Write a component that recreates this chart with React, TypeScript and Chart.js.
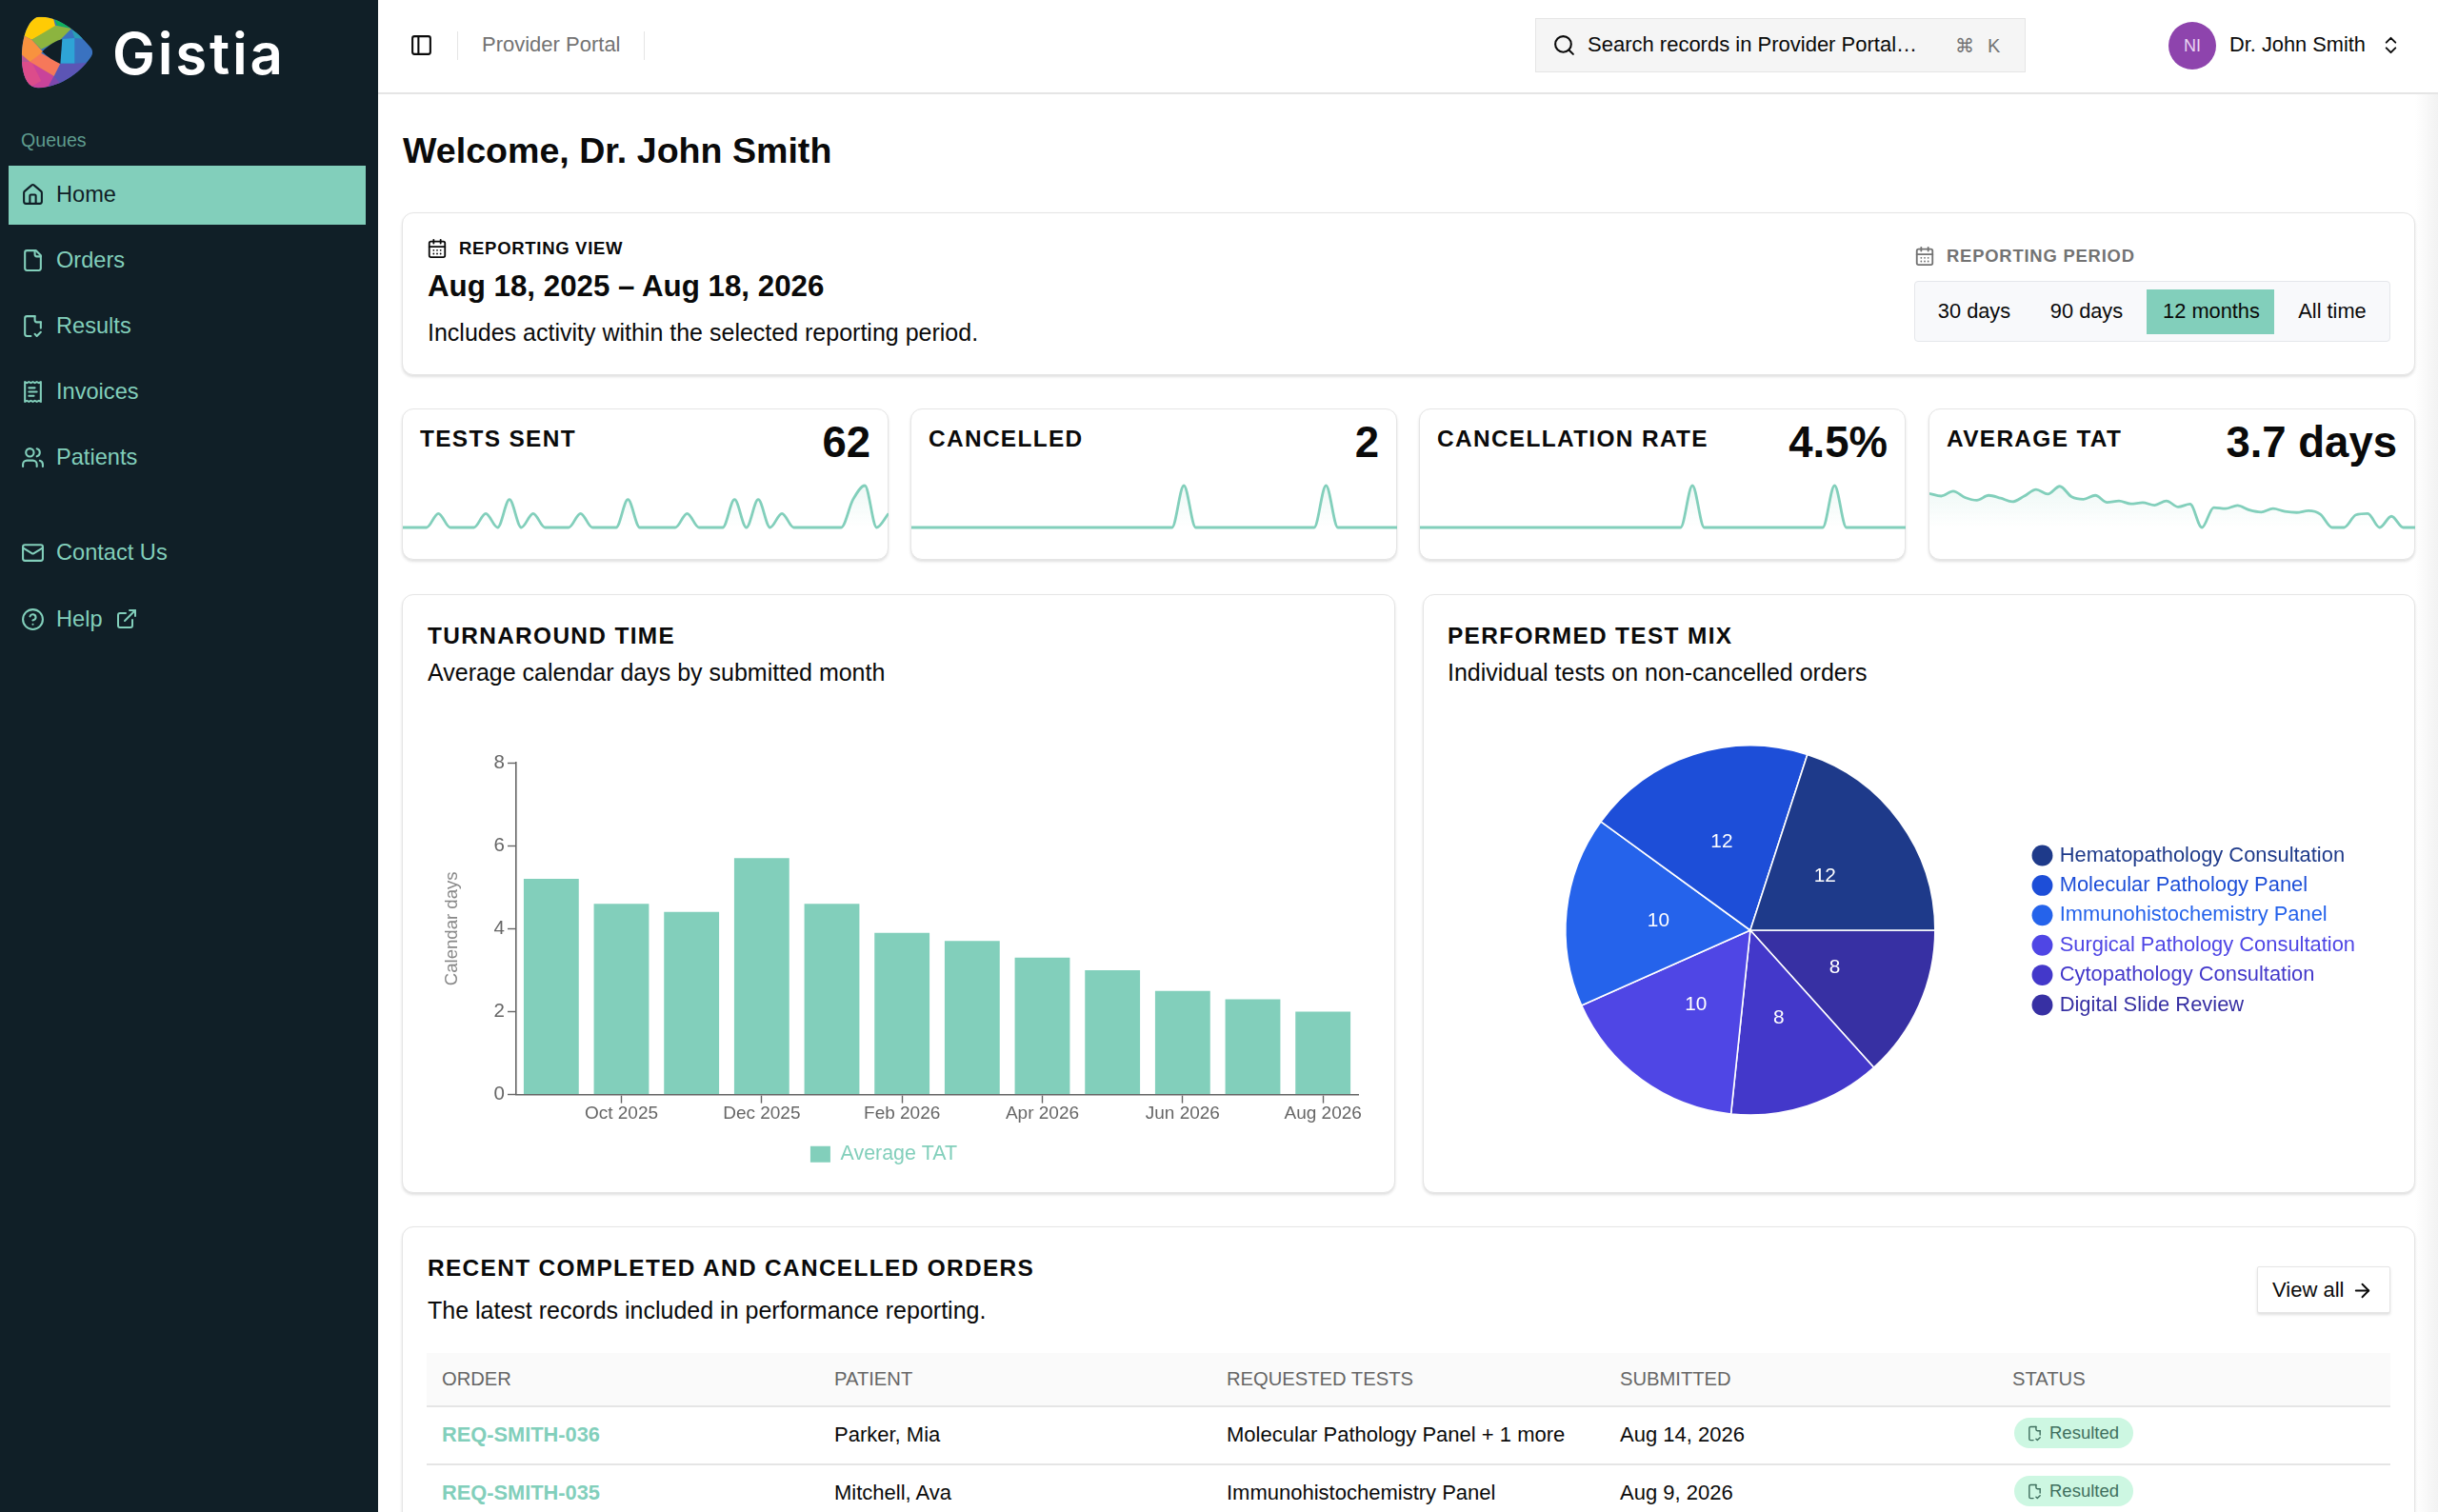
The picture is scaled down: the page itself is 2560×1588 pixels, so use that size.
import React, { useEffect, useRef } from 'react';
import { Chart, registerables } from 'chart.js';

Chart.register(...registerables);
Chart.defaults.font.family = '"Liberation Sans", Arial, sans-serif';

const TEAL = '#82cfbb';
const NAVY = '#101f27';
const LINE = '#e5e5e5';

const barMonths = ['Sep 2025', 'Oct 2025', 'Nov 2025', 'Dec 2025', 'Jan 2026', 'Feb 2026', 'Mar 2026', 'Apr 2026', 'May 2026', 'Jun 2026', 'Jul 2026', 'Aug 2026'];
const tatValues = [5.2, 4.6, 4.4, 5.7, 4.6, 3.9, 3.7, 3.3, 3.0, 2.5, 2.3, 2.0];
const yTicks = [0, 2, 4, 6, 8];

const mixLabels = ['Hematopathology Consultation', 'Molecular Pathology Panel', 'Immunohistochemistry Panel', 'Surgical Pathology Consultation', 'Cytopathology Consultation', 'Digital Slide Review'];
const mixValues = [12, 12, 10, 10, 8, 8];
const mixColors = ['#1e3a8a', '#1d4ed8', '#2563eb', '#4f46e5', '#4338ca', '#3730a3'];

const sparkTests = [0, 0, 0, 1, 0, 0, 0, 1, 0, 2, 0, 1, 0, 0, 0, 1, 0, 0, 0, 2, 0, 0, 0, 0, 1, 0, 0, 0, 2, 0, 2, 0, 1, 0, 0, 0, 0, 0, 2, 3, 0, 1];
const sparkCancelled = [0, 0, 0, 0, 0, 0, 0, 0, 0, 0, 0, 0, 0, 0, 0, 0, 0, 0, 0, 0, 0, 0, 0, 1, 0, 0, 0, 0, 0, 0, 0, 0, 0, 0, 0, 1, 0, 0, 0, 0, 0, 0];
const sparkRate = [0, 0, 0, 0, 0, 0, 0, 0, 0, 0, 0, 0, 0, 0, 0, 0, 0, 0, 0, 0, 0, 0, 0, 5, 0, 0, 0, 0, 0, 0, 0, 0, 0, 0, 0, 5, 0, 0, 0, 0, 0, 0];
const sparkTat = [4.86, 4.5, 5.2, 4.3, 3.9, 4.6, 4.2, 3.7, 4.5, 5.45, 4.8, 5.9, 4.4, 4.05, 4.6, 3.6, 3.8, 3.4, 3.55, 3.2, 3.8, 2.95, 3.35, 0, 2.85, 2.7, 3.15, 2.5, 2.2, 2.7, 2.3, 2.15, 2.4, 1.9, 0, 0, 1.8, 2.0, 0, 1.6, 0, 0];

const navItems = [
  { label: 'Orders', y: 273, icon: 'file' },
  { label: 'Results', y: 342, icon: 'check' },
  { label: 'Invoices', y: 411, icon: 'receipt' },
  { label: 'Patients', y: 480, icon: 'users' },
  { label: 'Contact Us', y: 580, icon: 'mail' },
  { label: 'Help', y: 650, icon: 'help' },
];

const periods = [
  { label: '30 days', x: 2073 },
  { label: '90 days', x: 2191 },
  { label: '12 months', x: 2322 },
  { label: 'All time', x: 2449 },
];

const kpis = [
  { title: 'TESTS SENT', value: '62', left: 423, data: sparkTests, max: 3 },
  { title: 'CANCELLED', value: '2', left: 957, data: sparkCancelled, max: 1 },
  { title: 'CANCELLATION RATE', value: '4.5%', left: 1491, data: sparkRate, max: 5 },
  { title: 'AVERAGE TAT', value: '3.7 days', left: 2026, data: sparkTat, max: 6 },
];

const tableCols = [464, 876, 1288, 1701, 2113];
const tableHead = ['ORDER', 'PATIENT', 'REQUESTED TESTS', 'SUBMITTED', 'STATUS'];
const tableRows = [
  { y: 1506, cells: ['REQ-SMITH-036', 'Parker, Mia', 'Molecular Pathology Panel + 1 more', 'Aug 14, 2026'] },
  { y: 1567, cells: ['REQ-SMITH-035', 'Mitchell, Ava', 'Immunohistochemistry Panel', 'Aug 9, 2026'] },
];

const ICONS: Record<string, React.ReactNode> = {
  home: <><path d="M15 21v-8a1 1 0 0 0-1-1h-4a1 1 0 0 0-1 1v8" /><path d="M3 10a2 2 0 0 1 .7-1.5l7-6a2 2 0 0 1 2.6 0l7 6A2 2 0 0 1 21 10v9a2 2 0 0 1-2 2H5a2 2 0 0 1-2-2z" /></>,
  file: <><path d="M15 2H6a2 2 0 0 0-2 2v16a2 2 0 0 0 2 2h12a2 2 0 0 0 2-2V7z" /><path d="M14 2v4a2 2 0 0 0 2 2h4" /></>,
  check: <><path d="M14 2H6a2 2 0 0 0-2 2v16a2 2 0 0 0 2 2h4" /><path d="M14 2v4a2 2 0 0 0 2 2h4" /><path d="M20 8v6" /><path d="m14 20 2 2 4-4" /></>,
  receipt: <><path d="M4 2v20l2-1 2 1 2-1 2 1 2-1 2 1 2-1 2 1V2l-2 1-2-1-2 1-2-1-2 1-2-1-2 1Z" /><path d="M14 8H8" /><path d="M16 12H8" /><path d="M13 16H8" /></>,
  users: <><path d="M16 21v-2a4 4 0 0 0-4-4H6a4 4 0 0 0-4 4v2" /><circle cx="9" cy="7" r="4" /><path d="M22 21v-2a4 4 0 0 0-3-3.87" /><path d="M16 3.13a4 4 0 0 1 0 7.75" /></>,
  mail: <><rect x="2" y="4" width="20" height="16" rx="2" /><path d="m22 7-8.97 5.7a1.94 1.94 0 0 1-2.06 0L2 7" /></>,
  help: <><circle cx="12" cy="12" r="10" /><path d="M9.09 9a3 3 0 0 1 5.83 1c0 2-3 3-3 3" /><path d="M12 17h.01" /></>,
  external: <><path d="M15 3h6v6" /><path d="M10 14 21 3" /><path d="M18 13v6a2 2 0 0 1-2 2H5a2 2 0 0 1-2-2V8a2 2 0 0 1 2-2h6" /></>,
  calendar: <><path d="M8 2v4" /><path d="M16 2v4" /><rect x="3" y="4" width="18" height="18" rx="2" /><path d="M3 10h18" /><path d="M8 14h.01M12 14h.01M16 14h.01M8 18h.01M12 18h.01M16 18h.01" /></>,
  search: <><path d="m21 21-4.3-4.3" /><circle cx="11" cy="11" r="8" /></>,
  panel: <><rect x="3" y="3" width="18" height="18" rx="2" /><path d="M9 3v18" /></>,
  updown: <><path d="m7 15 5 5 5-5" /><path d="m7 9 5-5 5 5" /></>,
  arrow: <><path d="M5 12h14" /><path d="m12 5 7 7-7 7" /></>,
};

function Icon({ name, x, y, size = 24, color = '#0a0a0a', sw = 2 }: { name: string; x: number; y: number; size?: number; color?: string; sw?: number }) {
  return (
    <svg viewBox="0 0 24 24" width={size} height={size} fill="none" stroke={color} strokeWidth={sw} strokeLinecap="round" strokeLinejoin="round"
      style={{ position: 'absolute', left: x - size / 2, top: y - size / 2 }}>
      {ICONS[name]}
    </svg>
  );
}

interface TextProps {
  x: number; y: number; s: number; c?: string; w?: number; ls?: number; anchor?: 'start' | 'mid' | 'end'; font?: string; children: React.ReactNode;
}

// y is the vertical centre of the line, the +1 makes up for Liberation sitting a bit high
function T({ x, y, s, c = '#0a0a0a', w = 400, ls = 0, anchor = 'start', font, children }: TextProps) {
  const pos: React.CSSProperties = anchor === 'end' ? { right: 2560 - x } : { left: x };
  const tx = anchor === 'mid' ? '-50%' : '0';
  return (
    <span style={{ position: 'absolute', top: y + 1, ...pos, transform: `translate(${tx}, -50%)`, fontSize: s, color: c, fontWeight: w, letterSpacing: ls, lineHeight: 1, whiteSpace: 'nowrap', fontFamily: font }}>
      {children}
    </span>
  );
}

function Box({ x, y, w, h, r = 12, style }: { x: number; y: number; w: number; h: number; r?: number; style?: React.CSSProperties }) {
  return <div style={{ position: 'absolute', left: x, top: y, width: w, height: h, boxSizing: 'border-box', border: `1.5px solid ${LINE}`, borderRadius: r, background: '#fff', boxShadow: '0 2px 3px rgba(0,0,0,0.12)', ...style }} />;
}

function useChart(makeConfig: () => any) {
  const ref = useRef<HTMLCanvasElement>(null);
  useEffect(() => {
    if (!ref.current) return;
    const chart = new Chart(ref.current, makeConfig());
    return () => chart.destroy();
  }, []);
  return ref;
}

function Spark({ left, data, max }: { left: number; data: number[]; max: number }) {
  const ref = useChart(() => ({
    type: 'line',
    data: {
      labels: data.map((_, i) => i),
      datasets: [{
        data,
        borderColor: TEAL,
        borderWidth: 2.8,
        pointRadius: 0,
        cubicInterpolationMode: 'monotone',
        clip: false,
        fill: 'origin',
        backgroundColor: (ctx: any) => {
          const area = ctx.chart.chartArea;
          if (!area) return 'transparent';
          const g = ctx.chart.ctx.createLinearGradient(0, area.top, 0, area.bottom);
          g.addColorStop(0, 'rgba(130,207,187,0.14)');
          g.addColorStop(1, 'rgba(130,207,187,0)');
          return g;
        },
      }],
    },
    options: {
      responsive: false,
      animation: false,
      events: [],
      layout: { padding: { top: 15, bottom: 16, left: 0, right: 0 } },
      plugins: { legend: { display: false }, tooltip: { enabled: false } },
      scales: {
        x: { display: false, offset: false },
        y: { display: false, min: 0, max },
      },
    },
  }));
  return <canvas ref={ref} width={510} height={75} style={{ position: 'absolute', left, top: 495, display: 'block' }} />;
}

function TatChart() {
  const ref = useChart(() => ({
    type: 'bar',
    data: {
      labels: barMonths,
      datasets: [{ label: 'Average TAT', data: tatValues, backgroundColor: TEAL, categoryPercentage: 1, barPercentage: 0.785 }],
    },
    options: {
      responsive: false,
      animation: false,
      events: [],
      layout: { padding: { top: 21, right: 34, bottom: 17, left: 0 } },
      plugins: {
        tooltip: { enabled: false },
        legend: {
          position: 'bottom',
          onClick: null,
          labels: { boxWidth: 21, boxHeight: 17, color: TEAL, font: { size: 21.4 }, padding: 10 },
        },
      },
      scales: {
        x: {
          afterFit: (s: any) => { s.height = 42; },
          border: { color: '#666', width: 1.6 },
          grid: {
            offset: false,
            drawOnChartArea: false,
            tickLength: 9,
            tickWidth: 1.4,
            tickColor: (ctx: any) => (ctx.index % 2 === 1 ? '#666' : 'rgba(0,0,0,0)'),
          },
          ticks: {
            autoSkip: false,
            maxRotation: 0,
            padding: 0,
            color: '#666',
            font: { size: 19 },
            callback: (_: unknown, i: number) => (i % 2 === 1 ? barMonths[i] : ''),
          },
        },
        y: {
          min: 0,
          max: 8,
          afterFit: (s: any) => { s.width = 112; },
          afterBuildTicks: (s: any) => { s.ticks = yTicks.map(value => ({ value })); },
          border: { color: '#666', width: 1.6 },
          grid: { drawOnChartArea: false, tickLength: 9, tickWidth: 1.4, tickColor: '#666' },
          ticks: { padding: 3, color: '#666', font: { size: 20.5 } },
          title: { display: true, text: 'Calendar days', color: '#888', font: { size: 18.6 }, padding: { top: 34, bottom: 0 } },
        },
      },
    },
  }));
  return <canvas ref={ref} width={1030} height={470} style={{ position: 'absolute', left: 430, top: 780, display: 'block' }} />;
}

// Chart.js has no built-in value labels, so the numbers are drawn at each arc's middle
const sliceValues = {
  id: 'sliceValues',
  afterDatasetsDraw(chart: any) {
    const { ctx } = chart;
    const values = chart.data.datasets[0].data;
    ctx.save();
    ctx.fillStyle = '#fff';
    ctx.font = '20.8px "Liberation Sans"';
    ctx.textAlign = 'center';
    ctx.textBaseline = 'middle';
    chart.getDatasetMeta(0).data.forEach((arc: any, i: number) => {
      const p = arc.tooltipPosition();
      ctx.fillText(String(values[i]), p.x, p.y);
    });
    ctx.restore();
  },
};

function MixChart() {
  const ref = useChart(() => ({
    type: 'pie',
    plugins: [sliceValues],
    data: {
      // Chart.js only runs clockwise, the reference runs the other way from 3 o'clock
      labels: [...mixLabels].reverse(),
      datasets: [{ data: [...mixValues].reverse(), backgroundColor: [...mixColors].reverse(), borderColor: '#fff', borderWidth: 1.6 }],
    },
    options: {
      responsive: false,
      animation: false,
      events: [],
      rotation: 90,
      radius: 194,
      layout: { padding: { left: 48, right: 47, top: 0, bottom: 0 } },
      plugins: {
        tooltip: { enabled: false },
        legend: {
          position: 'right',
          onClick: null,
          labels: {
            usePointStyle: true,
            pointStyle: 'circle',
            boxWidth: 14.5,
            boxHeight: 15.5,
            padding: 9.5,
            font: { size: 21.9 },
            sort: (a: any, b: any) => b.index - a.index,
            generateLabels: (chart: any) => (Chart as any).overrides.doughnut.plugins.legend.labels.generateLabels(chart)
              .map((item: any) => ({ ...item, fontColor: item.fillStyle, strokeStyle: item.fillStyle, lineWidth: 0 })),
          },
        },
      },
    },
  }));
  return <canvas ref={ref} width={1030} height={474} style={{ position: 'absolute', left: 1500, top: 740, display: 'block' }} />;
}

function Logo() {
  return (
    <svg viewBox="0 0 300 300" width={100} height={100} style={{ position: 'absolute', left: 10, top: 5 }}>
      <defs>
        <clipPath id="logoBlob">
          <path d="M85 40 C150 28 225 95 258 138 Q265 150 258 162 C230 205 170 258 92 262 C62 264 45 235 40 190 C35 140 45 60 85 40 Z" />
        </clipPath>
      </defs>
      <g clipPath="url(#logoBlob)">
        <rect width="300" height="300" fill="#3a72c0" />
        <polygon points="30,30 135,30 145,70 70,110 30,90" fill="#ffcb05" />
        <polygon points="135,30 200,40 195,75 150,65" fill="#0fb35c" />
        <polygon points="145,65 195,75 160,110 100,140 70,110" fill="#8cb43f" />
        <polygon points="200,40 270,110 205,105 195,75" fill="#2a9eb6" />
        <polygon points="165,108 205,105 205,185 160,185" fill="#2ea4d6" />
        <polygon points="160,185 205,185 270,180 180,270 140,225" fill="#5c55b5" />
        <polygon points="30,180 70,180 140,225 120,270 30,270" fill="#c9439a" />
        <polygon points="30,150 70,180 100,240 30,280" fill="#e24f86" opacity="0.75" />
        <polygon points="95,150 160,185 140,225 65,180" fill="#f6785a" />
        <polygon points="30,90 70,110 105,148 65,180 30,150" fill="#f8923f" />
        <polygon points="140,225 180,270 130,270 120,260" fill="#7d48ad" />
        <path d="M103 148 C125 125 150 112 166 108 L160 186 C140 178 120 165 103 148 Z" fill={NAVY} />
      </g>
    </svg>
  );
}

export default function App() {
  return (
    <div style={{ position: 'relative', width: 2560, height: 1588, overflow: 'hidden', background: '#fff', fontFamily: '"Liberation Sans", Arial, sans-serif' }}>
      <style>{'body{margin:0}'}</style>

      {/* sidebar */}
      <div style={{ position: 'absolute', left: 0, top: 0, width: 397, height: 1588, background: NAVY }} />
      <Logo />
      <T x={118} y={55} s={60} c="#fff" w={600} ls={2.8} font="Inter">Gistia</T>
      <T x={22} y={146.5} s={19.6} c="#5f9c8e">Queues</T>
      <div style={{ position: 'absolute', left: 9, top: 174, width: 375, height: 62, background: TEAL }} />
      <Icon name="home" x={34} y={204} size={25} color={NAVY} />
      <T x={59} y={203.5} s={23.6} c={NAVY}>Home</T>
      {navItems.map(n => (
        <React.Fragment key={n.label}>
          <Icon name={n.icon} x={34} y={n.y} size={25} color={TEAL} />
          <T x={59} y={n.y - 0.5} s={23.6} c={TEAL}>{n.label}</T>
        </React.Fragment>
      ))}
      <Icon name="external" x={133} y={650} size={24} color={TEAL} />

      {/* top bar */}
      <div style={{ position: 'absolute', left: 397, top: 97, width: 2163, height: 2, background: LINE }} />
      <Icon name="panel" x={442} y={47} size={25} />
      <div style={{ position: 'absolute', left: 480, top: 33, width: 1, height: 30, background: LINE }} />
      <T x={506} y={46} s={22} c="#737373">Provider Portal</T>
      <div style={{ position: 'absolute', left: 676, top: 33, width: 1, height: 30, background: LINE }} />
      <div style={{ position: 'absolute', left: 1612, top: 19, width: 515, height: 57, boxSizing: 'border-box', background: '#f5f5f5', border: `1.5px solid ${LINE}` }} />
      <Icon name="search" x={1642} y={47} size={25} />
      <T x={1667} y={46} s={22}>Search records in Provider Portal…</T>
      <T x={2053} y={47} s={20} c="#737373">⌘</T>
      <T x={2087} y={47} s={20} c="#737373">K</T>
      <div style={{ position: 'absolute', left: 2277, top: 23, width: 50, height: 50, borderRadius: '50%', background: '#8e44ad' }} />
      <T x={2302} y={47} s={18} c="#e9d5f2" anchor="mid">NI</T>
      <T x={2341} y={46} s={21.8}>Dr. John Smith</T>
      <Icon name="updown" x={2510} y={47} size={23} />

      {/* right page shadow */}
      <div style={{ position: 'absolute', left: 2536, top: 99, width: 24, height: 1489, background: 'linear-gradient(to right, rgba(240,240,240,0), #f2f2f2)' }} />

      <T x={423} y={158} s={37.6} w={700}>Welcome, Dr. John Smith</T>

      {/* reporting view */}
      <Box x={422} y={223} w={2114} h={171} />
      <Icon name="calendar" x={459} y={261} size={22} />
      <T x={482} y={260} s={18.5} w={700} ls={0.7}>REPORTING VIEW</T>
      <T x={449} y={300} s={31.3} w={700}>Aug 18, 2025 – Aug 18, 2026</T>
      <T x={449} y={348} s={25}>Includes activity within the selected reporting period.</T>
      <Icon name="calendar" x={2021} y={269} size={22} color="#737373" />
      <T x={2044} y={267.5} s={18.4} w={700} c="#737373" ls={0.8}>REPORTING PERIOD</T>
      <div style={{ position: 'absolute', left: 2010, top: 295, width: 500, height: 64, boxSizing: 'border-box', background: '#f8f9fb', border: '1.5px solid #e5e7eb', borderRadius: 4 }} />
      <div style={{ position: 'absolute', left: 2254, top: 304, width: 134, height: 47, background: TEAL }} />
      {periods.map(p => <T key={p.label} x={p.x} y={326} s={21.8} anchor="mid">{p.label}</T>)}

      {/* kpi cards */}
      {kpis.map(k => (
        <React.Fragment key={k.title}>
          <Box x={k.left - 1} y={429} w={511} h={159} />
          <Spark left={k.left} data={k.data} max={k.max} />
          <T x={k.left + 18} y={460} s={24.4} w={700} ls={1.35}>{k.title}</T>
          <T x={k.left + 491} y={463.5} s={45.5} w={700} anchor="end">{k.value}</T>
        </React.Fragment>
      ))}

      {/* chart cards */}
      <Box x={422} y={624} w={1043} h={629} />
      <T x={449} y={667} s={24.4} w={700} ls={1.35}>TURNAROUND TIME</T>
      <T x={449} y={705} s={25}>Average calendar days by submitted month</T>
      <TatChart />

      <Box x={1494} y={624} w={1042} h={629} />
      <T x={1520} y={667} s={24.4} w={700} ls={1.35}>PERFORMED TEST MIX</T>
      <T x={1520} y={705} s={25}>Individual tests on non-cancelled orders</T>
      <MixChart />

      {/* orders table */}
      <Box x={422} y={1288} w={2114} h={340} />
      <T x={449} y={1331} s={24.4} w={700} ls={1.35}>RECENT COMPLETED AND CANCELLED ORDERS</T>
      <T x={449} y={1375} s={25}>The latest records included in performance reporting.</T>
      <Box x={2370} y={1330} w={140} h={49} r={2} />
      <T x={2386} y={1354} s={22}>View all</T>
      <Icon name="arrow" x={2480} y={1355} size={23} />
      <div style={{ position: 'absolute', left: 448, top: 1421, width: 2062, height: 55, background: '#fafafa', borderBottom: `2px solid ${LINE}` }} />
      {tableHead.map((h, i) => <T key={h} x={tableCols[i]} y={1447} s={20.2} c="#666">{h}</T>)}
      {tableRows.map(r => (
        <React.Fragment key={r.y}>
          {r.cells.map((c, i) => (
            <T key={c} x={tableCols[i]} y={r.y} s={i === 0 ? 21.8 : 22} c={i === 0 ? TEAL : '#0a0a0a'} w={i === 0 ? 700 : 400}>{c}</T>
          ))}
          <div style={{ position: 'absolute', left: 2115, top: r.y - 17, width: 125, height: 32, borderRadius: 16, background: '#cdf7e2' }} />
          <Icon name="check" x={2136} y={r.y - 1} size={17} color="#3f6f5e" />
          <T x={2152} y={r.y - 2.5} s={18.5} c="#3f6f5e">Resulted</T>
        </React.Fragment>
      ))}
      <div style={{ position: 'absolute', left: 448, top: 1537, width: 2062, height: 2, background: LINE }} />
    </div>
  );
}
